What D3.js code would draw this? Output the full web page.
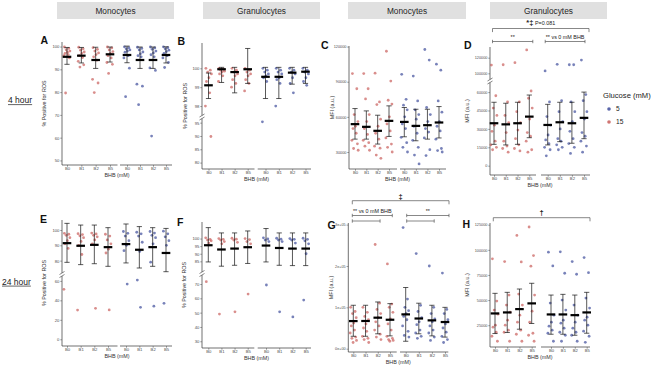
<!DOCTYPE html>
<html>
<head>
<meta charset="utf-8">
<script src="https://cdn.jsdelivr.net/npm/d3@7"></script>
<style>
  body { margin: 0; background: #fff; }
  svg { display: block; font-family: "Liberation Sans", Arial, sans-serif; }
</style>
</head>
<body>
<svg id="chart" width="666" height="376"></svg>
<script>
'use strict';

// ---- data -------------------------------------------------------------
const groups = ['B0', 'B1', 'B2', 'B5'];
const glucoseLevels = ['5', '15'];
const headers = ['Monocytes', 'Granulocytes', 'Monocytes', 'Granulocytes'];
const rowLabels = ['4 hour', '24 hour'];
// columns: 15 mM B0,B1,B2,B5 then 5 mM B0,B1,B2,B5

// A: monocytes, % ROS, 4 h
const meanA = [95.5, 96.0, 94.1, 96.6, 96.3, 94.1, 94.1, 96.3];
const hiA = [99.6, 99.6, 99.7, 99.8, 100.2, 99.8, 99.8, 99.9];
const loA = [92.2, 92.8, 90.4, 93.2, 92.9, 90.4, 90.4, 92.8];
const ptsA = [
  [99.8, 99.2, 98.6, 98.0, 97.5, 97.0, 96.5, 96.0, 95.0, 79.6],
  [99.7, 99.0, 98.4, 97.6, 97.0, 96.0, 95.2, 93.5, 92.0, 91.0],
  [99.5, 98.8, 98.0, 97.2, 96.5, 95.5, 94.0, 85.6, 84.0, 79.8],
  [99.8, 99.4, 98.5, 97.8, 97.0, 96.0, 95.0, 93.0, 92.2, 88.2],
  [99.9, 99.5, 99.0, 98.5, 98.0, 97.5, 96.0, 95.0, 90.5, 78.0],
  [99.7, 99.2, 98.5, 97.6, 96.8, 96.0, 95.5, 83.5, 82.6, 74.5],
  [99.8, 99.4, 98.8, 98.0, 97.2, 96.4, 95.5, 90.6, 89.5, 60.7],
  [99.9, 99.5, 99.0, 98.4, 97.8, 97.0, 96.0, 95.0, 93.0, 90.8]
];

// B: granulocytes, % ROS, 4 h
const meanB = [99.1, 99.95, 99.8, 99.95, 99.55, 99.55, 99.77, 99.82];
const hiB = [99.75, 100.05, 100.05, 101.05, 100.05, 100.05, 100.05, 100.05];
const loB = [98.4, 99.25, 98.7, 99.2, 98.4, 98.4, 99.16, 99.2];
const ptsB = [
  [100.0, 99.9, 99.8, 99.7, 99.5, 99.3, 98.7, 98.0, 89.8],
  [100.0, 99.95, 99.9, 99.85, 99.8, 99.7, 99.6, 99.3],
  [100.0, 99.9, 99.8, 99.7, 99.6, 99.4, 99.2, 99.0],
  [100.0, 99.9, 99.8, 99.7, 99.6, 99.4, 99.2, 98.8],
  [100.0, 99.9, 99.8, 99.7, 99.6, 99.5, 99.3, 95.3],
  [100.0, 99.9, 99.8, 99.7, 99.5, 99.4, 99.2, 98.0],
  [100.0, 99.9, 99.8, 99.7, 99.5, 99.2, 98.7],
  [100.0, 99.9, 99.8, 99.7, 99.5, 99.3, 99.1]
];

// C: monocytes, MFI, 4 h
const meanC = [53800, 51500, 48100, 56600, 55700, 52300, 52900, 55200];
const hiC = [67100, 65100, 61400, 69400, 68000, 66500, 66500, 68800];
const loC = [41000, 41000, 36800, 43300, 43000, 39600, 41000, 42000];
const ptsC = [
  [97000, 84000, 62000, 56000, 52000, 50000, 46000, 40000, 37000, 33000, 31500],
  [97000, 84000, 75300, 62000, 56000, 50000, 45000, 40000, 38000, 35000, 31500],
  [97300, 72800, 70500, 58000, 52000, 46000, 41000, 35000, 33300, 27400, 24600],
  [116000, 90600, 74200, 70900, 60000, 54000, 48000, 42000, 36800, 34000, 30000],
  [96300, 75000, 70000, 66000, 60000, 54000, 50000, 42500, 38000, 34000, 30000],
  [94800, 73600, 66000, 62000, 58000, 52000, 46000, 40000, 34000, 27400, 19800],
  [117500, 108500, 68000, 62000, 56000, 50000, 47000, 42000, 32000, 27000],
  [105000, 99900, 73600, 64000, 56000, 52000, 48000, 41000, 33000, 31200, 30000]
];

// D: granulocytes, MFI, 4 h
const meanD = [34600, 33700, 34600, 40000, 33200, 35400, 34600, 39000];
const hiD = [51700, 50900, 51700, 57600, 50000, 51700, 51700, 60000];
const loD = [17400, 16900, 17400, 22800, 16900, 19600, 18300, 22000];
const ptsD = [
  [110600, 57000, 47000, 41000, 33000, 28000, 20000, 17000, 15000, 13000],
  [111000, 52000, 41000, 35000, 27000, 20000, 16000, 14000, 11000],
  [113600, 52000, 44000, 35000, 29000, 22000, 17000, 14000, 12000],
  [130000, 60900, 55000, 47000, 38000, 27000, 24000, 20000, 13000, 11000],
  [103000, 52000, 40000, 33000, 25000, 21000, 18000, 15000, 13000, 8000],
  [111500, 53000, 44000, 36000, 30000, 22000, 20000, 17000, 15000, 13000],
  [111000, 111000, 52000, 44000, 36000, 28000, 22000, 18000, 15000, 10000],
  [117000, 58000, 53000, 44000, 38000, 27000, 24000, 20000, 16000, 11000]
];

// E: monocytes, % ROS, 24 h
const meanE = [91.4, 89.7, 90.3, 88.8, 90.8, 87.1, 88.8, 85.0];
const hiE = [104.3, 103.2, 103.2, 101.5, 103.9, 102.2, 101.5, 101.0];
const loE = [78.9, 77.4, 78.0, 76.3, 78.5, 75.2, 76.3, 72.8];
const ptsE = [
  [97.8, 97.2, 96.5, 95.0, 93.0, 91.0, 88.0, 51.3],
  [97.6, 97.0, 96.2, 95.0, 92.5, 90.0, 84.0, 30.0],
  [98.0, 97.4, 96.5, 95.5, 93.5, 91.0, 31.8],
  [97.2, 96.0, 93.5, 91.0, 87.5, 85.0, 30.2],
  [99.0, 97.8, 96.0, 93.0, 90.0, 86.5, 56.7],
  [98.5, 97.5, 96.0, 92.0, 86.0, 60.8, 32.8],
  [99.0, 98.0, 96.5, 95.0, 91.0, 79.0, 34.0],
  [99.2, 97.5, 95.5, 93.0, 90.0, 37.0]
];

// F: granulocytes, % ROS, 24 h
const meanF = [95.6, 92.8, 93.4, 94.3, 95.4, 93.8, 93.4, 93.4];
const hiF = [107.2, 103.7, 103.7, 105.0, 106.6, 103.7, 103.7, 103.7];
const loF = [84.6, 81.8, 82.4, 83.6, 84.6, 82.4, 82.2, 82.2];
const ptsF = [
  [100.5, 99.5, 99.0, 98.5, 97.0, 71.6],
  [100.0, 99.5, 99.0, 98.0, 96.5, 49.0],
  [100.2, 99.6, 99.0, 97.5, 50.6],
  [100.0, 99.3, 98.0, 96.5, 63.0],
  [100.5, 99.7, 99.0, 98.0, 69.3],
  [100.2, 99.6, 99.0, 98.0, 50.6],
  [100.0, 99.5, 99.0, 97.0, 47.0],
  [100.2, 99.5, 98.5, 96.5, 90.0, 58.8]
];

// G: monocytes, MFI, 24 h
const meanG = [66800, 67000, 75000, 70000, 83000, 73000, 68500, 64500];
const hiG = [105000, 105000, 113000, 109000, 148000, 110000, 105000, 100000];
const loG = [30000, 30000, 36000, 31000, 18000, 36000, 31000, 28000];
const ptsG = [
  [100000, 90000, 85000, 75000, 62000, 55000, 45000, 38000, 28000, 25000, 20000, 15000],
  [100000, 88000, 78000, 70000, 60000, 50000, 42000, 30000, 25000, 22000, 15000],
  [252000, 110000, 95000, 85000, 75000, 65000, 55000, 45000, 35000, 28000, 22000],
  [205000, 108000, 100000, 88000, 72000, 60000, 45000, 30000, 25000, 22000, 20000, 18000],
  [293000, 120000, 100000, 92000, 85000, 78000, 70000, 55000, 42000, 32000, 28000],
  [230000, 105000, 90000, 75000, 65000, 58000, 45000, 38000, 30000, 25000],
  [200000, 100000, 85000, 72000, 65000, 55000, 45000, 38000, 28000, 20000],
  [183000, 95000, 85000, 70000, 60000, 50000, 40000, 30000, 22000, 15000]
];

// H: granulocytes, MFI, 24 h
const meanH = [36700, 37700, 41000, 46700, 35700, 35700, 35000, 37700];
const hiH = [56700, 57700, 61000, 66700, 55000, 55700, 55000, 57700];
const loH = [16700, 17700, 21000, 26700, 16000, 16000, 15000, 17000];
const ptsH = [
  [91000, 49000, 40000, 36000, 25000, 23000, 18000, 14000, 9000],
  [88300, 55000, 45000, 38000, 30000, 25000, 20000, 18000, 9000],
  [114300, 88000, 56000, 45000, 35000, 28000, 20000, 16000, 9000],
  [122700, 94300, 83700, 55000, 39000, 28000, 17000, 15000, 9000],
  [97700, 84000, 47000, 35000, 28000, 24000, 20000, 17000, 9000],
  [98000, 76700, 50000, 40000, 30000, 27000, 22000, 18000, 15000, 9000],
  [88300, 75700, 45000, 35000, 28000, 22000, 18000, 15000, 9000],
  [92300, 77300, 52000, 42000, 33000, 30000, 25000, 19000, 14000, 8000]
];

// tick values
const ticksA = [50, 60, 70, 80, 90, 100];
const ticksBUpper = [98, 99, 100];
const ticksBLower = [80, 85, 90, 95];
const ticksC = [30000, 60000, 90000, 120000];
const ticksDUpper = [100000, 120000];
const ticksDLower = [0, 15000, 30000, 45000, 60000];
const ticksEUpper = [80, 90, 100];
const ticksELower = [0, 20, 40, 60];
const ticksFUpper = [85, 90, 95, 100];
const ticksFLower = [30, 40, 50, 60, 70];
const ticksG = [0, 100000, 200000, 300000];
const tickLabelsG = ['0e+00', '1e+05', '2e+05', '3e+05'];
const ticksH = [25000, 50000, 75000, 100000, 125000];

// ---- style ------------------------------------------------------------
const colorHigh = '#c4524f'; // 15 mM
const colorLow = '#2f3f94';  // 5 mM
const axisColor = '#333';
const tickColor = '#4d4d4d';
const jitter = [-2.6, 1.8, -0.8, 2.9, 0.4, -2.0, 1.2, -3.1, 2.4, -1.4, 3.2, -0.2];

const fmtInt = d3.format('d');
const fmtG = v => tickLabelsG[ticksG.indexOf(v)];

// segs: [domainLow, domainHigh, rangeBottom, rangeTop, ticks]
const panels = [
  { id: 'A', mean: meanA, hi: hiA, lo: loA, pts: ptsA, title: '% Positive for ROS', fmt: fmtInt, tickFont: 4.2,
    x0: 62, x1: 172, gap: [117.5, 120], c: [67, 110, 127, 166], segs: [[48, 102, 165, 42, ticksA]],
    titleX: 46, letter: [40.5, 44] },
  { id: 'B', mean: meanB, hi: hiB, lo: loB, pts: ptsB, title: '% Positive for ROS', fmt: fmtInt, tickFont: 4.2,
    x0: 202, x1: 311, gap: [254.5, 257.7], c: [208.5, 247.7, 265.5, 305.5],
    segs: [[97.58, 101.34, 114, 43, ticksBUpper], [77.6, 96, 169, 120, ticksBLower]], breakY: 117,
    titleX: 187, letter: [177.5, 45] },
  { id: 'C', mean: meanC, hi: hiC, lo: loC, pts: ptsC, title: 'MFI (a.u.)', fmt: fmtInt, tickFont: 3.8,
    x0: 349, x1: 446, gap: [397, 400], c: [355, 389, 404.3, 439], segs: [[15500, 120500, 169, 46, ticksC]],
    titleX: 333.5, letter: [321, 49] },
  { id: 'D', mean: meanD, hi: hiD, lo: loD, pts: ptsD, title: 'MFI (a.u.)', fmt: fmtInt, tickFont: 3.8,
    x0: 490, x1: 590, gap: [536, 541], c: [494, 529.3, 547.7, 584],
    segs: [[94000, 133700, 78, 47, ticksDUpper], [-7600, 66600, 175, 84, ticksDLower]], breakY: 81,
    titleX: 469, letter: [464, 48.5] },
  { id: 'E', mean: meanE, hi: hiE, lo: loE, pts: ptsE, title: '% Positive for ROS', fmt: fmtInt, tickFont: 4.2,
    x0: 62, x1: 172, gap: [117.5, 120], c: [67, 108, 126, 166],
    segs: [[72.6, 106.5, 272, 220, ticksEUpper], [-6.9, 64, 346, 277, ticksELower]], breakY: 274.5,
    titleX: 46, letter: [40, 223] },
  { id: 'F', mean: meanF, hi: hiF, lo: loF, pts: ptsF, title: '% Positive for ROS', fmt: fmtInt, tickFont: 4.2,
    x0: 202, x1: 311, gap: [254.3, 257.7], c: [208.3, 247.7, 266, 305.7],
    segs: [[79.3, 110.9, 270, 222, ticksFUpper], [25.3, 74.2, 348, 278, ticksFLower]], breakY: 273.5,
    titleX: 186, letter: [177, 225.5] },
  { id: 'G', mean: meanG, hi: hiG, lo: loG, pts: ptsG, title: 'MFI (a.u.)', fmt: fmtG, tickFont: 3.8,
    x0: 348.3, x1: 448.3, gap: [396.7, 400], c: [353.3, 390, 405.7, 445], segs: [[-8000, 304000, 352, 223, ticksG]],
    titleX: 332.5, letter: [327.5, 229] },
  { id: 'H', mean: meanH, hi: hiH, lo: loH, pts: ptsH, title: 'MFI (a.u.)', fmt: fmtInt, tickFont: 3.8,
    x0: 490, x1: 590, gap: [536, 541], c: [495, 531.7, 551, 586.7], segs: [[3300, 126700, 347, 223, ticksH]],
    titleX: 469, letter: [462.5, 228] }
];

// brackets: cols are column indices (0..7); kind 'top' = ticks down, 'bar' = |--|
const brackets = [
  { panel: 'D', from: 0, to: 7, y: 28.5, kind: 'top', padL: -1.5, padR: 5, label: 'P=0.081', mark: '*‡', textY: 24.5 },
  { panel: 'D', from: 0, to: 3, y: 41.5, kind: 'bar', padL: -1.5, padR: 3.5, label: '**', textY: 38.5 },
  { panel: 'D', from: 4, to: 7, y: 41.5, kind: 'bar', padL: -2.5, padR: 1, label: '** vs 0 mM BHB', textY: 38.5 },
  { panel: 'G', from: 0, to: 7, y: 200.7, kind: 'top', padL: -1, padR: 4, label: '', mark: '‡', textY: 199 },
  { panel: 'G', from: 0, to: 3, y: 215.5, kind: 'bar', padL: -1, padR: 2.3, label: '** vs 0 mM BHB', textY: 213 },
  { panel: 'G', from: 0, to: 2, y: 221, kind: 'bar', padL: -1, padR: 2.3, label: '' },
  { panel: 'G', from: 4, to: 7, y: 215.5, kind: 'bar', padL: 1, padR: 4, label: '**', textY: 213 },
  { panel: 'G', from: 4, to: 6, y: 221, kind: 'bar', padL: 1, padR: 2.3, label: '' },
  { panel: 'H', from: 0, to: 7, y: 217.7, kind: 'top', padL: -1.7, padR: 3.3, label: '', mark: '†', textY: 214.5 }
];

const headerBoxes = [[57, 174], [203, 320], [348, 466], [490, 607]];

// ---- drawing -----------------------------------------------------------
const svg = d3.select('#chart');

headers.forEach((h, i) => {
  const [a, b] = headerBoxes[i];
  svg.append('rect').attr('x', a).attr('y', 2).attr('width', b - a).attr('height', 17).attr('fill', '#e0e0e0');
  svg.append('text').attr('x', (a + b) / 2).attr('y', 13.8).attr('text-anchor', 'middle')
    .attr('font-size', 8.3).attr('fill', '#262626').text(h);
});

[[8, 103], [2, 284.5]].forEach(([x, y], i) => {
  const t = svg.append('text').attr('x', x).attr('y', y).attr('font-size', 8.5).attr('fill', '#222').text(rowLabels[i]);
  const w = t.node().getComputedTextLength();
  svg.append('line').attr('x1', x).attr('x2', x + w).attr('y1', y + 1.6).attr('y2', y + 1.6)
    .attr('stroke', '#222').attr('stroke-width', 0.7);
});

const panelScales = {};

panels.forEach(p => {
  const g = svg.append('g').attr('class', 'panel-' + p.id);
  const segs = p.segs.map(s => ({
    scale: d3.scaleLinear().domain([s[0], s[1]]).range([s[2], s[3]]),
    ticks: s[4]
  }));
  const yOf = v => {
    for (const s of segs) {
      if (v >= s.scale.domain()[0]) return s.scale(v);
    }
    return segs[segs.length - 1].scale(v);
  };
  const xHigh = d3.scalePoint().domain(groups).range([p.c[0], p.c[1]]);
  const xLow = d3.scalePoint().domain(groups).range([p.c[2], p.c[3]]);
  const colX = i => (i < 4 ? xHigh(groups[i]) : xLow(groups[i - 4]));
  panelScales[p.id] = { colX, yOf };

  const yTop = d3.min(p.segs, s => s[3]);
  const yBot = d3.max(p.segs, s => s[2]);

  // y axes (one per segment)
  segs.forEach(s => {
    const ax = g.append('g').attr('transform', `translate(${p.x0},0)`)
      .call(d3.axisLeft(s.scale).tickValues(s.ticks).tickSize(1.8).tickPadding(0.8).tickFormat(p.fmt));
    ax.select('.domain').remove();
    ax.selectAll('line').attr('stroke', tickColor).attr('stroke-width', 0.5);
    ax.selectAll('text').attr('font-size', p.tickFont).attr('fill', tickColor).attr('font-family', null);
  });
  g.append('line').attr('x1', p.x0).attr('x2', p.x0).attr('y1', yTop).attr('y2', yBot)
    .attr('stroke', axisColor).attr('stroke-width', 0.7);

  if (p.breakY) {
    const by = p.breakY;
    g.append('rect').attr('x', p.x0 - 1).attr('y', by - 1.6).attr('width', 2).attr('height', 3.2).attr('fill', '#fff');
    [-1.5, 1.5].forEach(o => {
      g.append('line').attr('x1', p.x0 - 2.5).attr('x2', p.x0 + 2.5)
        .attr('y1', by + o + 1.5).attr('y2', by + o - 1.5)
        .attr('stroke', axisColor).attr('stroke-width', 0.6);
    });
  }

  // x axes (two segments)
  [[xHigh, p.x0, p.gap[0]], [xLow, p.gap[1], p.x1]].forEach(([xs, a, b]) => {
    const ax = g.append('g').attr('transform', `translate(0,${yBot})`)
      .call(d3.axisBottom(xs).tickSize(1.8).tickPadding(0.6));
    ax.select('.domain').remove();
    ax.selectAll('line').attr('stroke', tickColor).attr('stroke-width', 0.5);
    ax.selectAll('text').attr('font-size', 4.2).attr('fill', tickColor).attr('font-family', null);
    g.append('line').attr('x1', a).attr('x2', b).attr('y1', yBot).attr('y2', yBot)
      .attr('stroke', axisColor).attr('stroke-width', 0.7);
  });

  // axis titles
  g.append('text').attr('x', (p.x0 + p.x1) / 2).attr('y', yBot + 12).attr('text-anchor', 'middle')
    .attr('font-size', 5.4).attr('fill', '#333').text('BHB (mM)');
  g.append('text').attr('transform', `translate(${p.titleX},${(yTop + yBot) / 2}) rotate(-90)`)
    .attr('text-anchor', 'middle').attr('font-size', 5.4).attr('fill', '#333').text(p.title);

  // panel letter
  g.append('text').attr('x', p.letter[0]).attr('y', p.letter[1]).attr('font-size', 10.5)
    .attr('font-weight', 'bold').attr('fill', '#111').text(p.id);

  // points
  p.pts.forEach((col, i) => {
    g.append('g').selectAll('circle').data(col).join('circle')
      .attr('cx', (v, j) => colX(i) + jitter[j % jitter.length])
      .attr('cy', v => yOf(v))
      .attr('r', 1.4)
      .attr('fill', i < 4 ? colorHigh : colorLow)
      .attr('fill-opacity', 0.65);
  });

  // error bars and mean
  p.mean.forEach((m, i) => {
    const cx = colX(i);
    g.append('line').attr('x1', cx).attr('x2', cx).attr('y1', yOf(p.hi[i])).attr('y2', yOf(p.lo[i]))
      .attr('stroke', '#111').attr('stroke-width', 0.7);
    [p.hi[i], p.lo[i]].forEach(v => {
      g.append('line').attr('x1', cx - 2.6).attr('x2', cx + 2.6).attr('y1', yOf(v)).attr('y2', yOf(v))
        .attr('stroke', '#111').attr('stroke-width', 0.7);
    });
    g.append('rect').attr('x', cx - 4.3).attr('y', yOf(m) - 1.1).attr('width', 8.6).attr('height', 2.2)
      .attr('fill', '#000');
  });
});

// significance brackets
brackets.forEach(b => {
  const { colX } = panelScales[b.panel];
  const xa = colX(b.from) + b.padL;
  const xb = colX(b.to) + b.padR;
  const seg = (x1, y1, x2, y2) => {
    svg.append('line').attr('x1', x1).attr('y1', y1).attr('x2', x2).attr('y2', y2)
      .attr('stroke', '#555').attr('stroke-width', 0.7);
  };
  seg(xa, b.y, xb, b.y);
  if (b.kind === 'top') {
    seg(xa, b.y, xa, b.y + 3.6);
    seg(xb, b.y, xb, b.y + 3.6);
  } else {
    seg(xa, b.y - 1.7, xa, b.y + 1.7);
    seg(xb, b.y - 1.7, xb, b.y + 1.7);
  }
  if (b.mark || b.label) {
    const t = svg.append('text').attr('x', (xa + xb) / 2).attr('y', b.textY)
      .attr('text-anchor', 'middle').attr('fill', '#222');
    if (b.mark) t.append('tspan').attr('font-size', 7.5).attr('font-weight', 'bold').text(b.mark);
    if (b.label) t.append('tspan').attr('font-size', 5.4).attr('dx', b.mark ? 1.5 : 0).text(b.label);
  }
});

// legend
const legend = svg.append('g').attr('transform', 'translate(603,0)');
legend.append('text').attr('x', 0).attr('y', 98).attr('font-size', 7.6).attr('fill', '#222').text('Glucose (mM)');
glucoseLevels.forEach((lvl, i) => {
  const y = 109 + i * 13;
  legend.append('circle').attr('cx', 6).attr('cy', y).attr('r', 1.8)
    .attr('fill', i === 0 ? colorLow : colorHigh).attr('fill-opacity', 0.8);
  legend.append('text').attr('x', 13).attr('y', y + 2.4).attr('font-size', 6.6).attr('fill', '#222').text(lvl);
});
</script>
</body>
</html>
